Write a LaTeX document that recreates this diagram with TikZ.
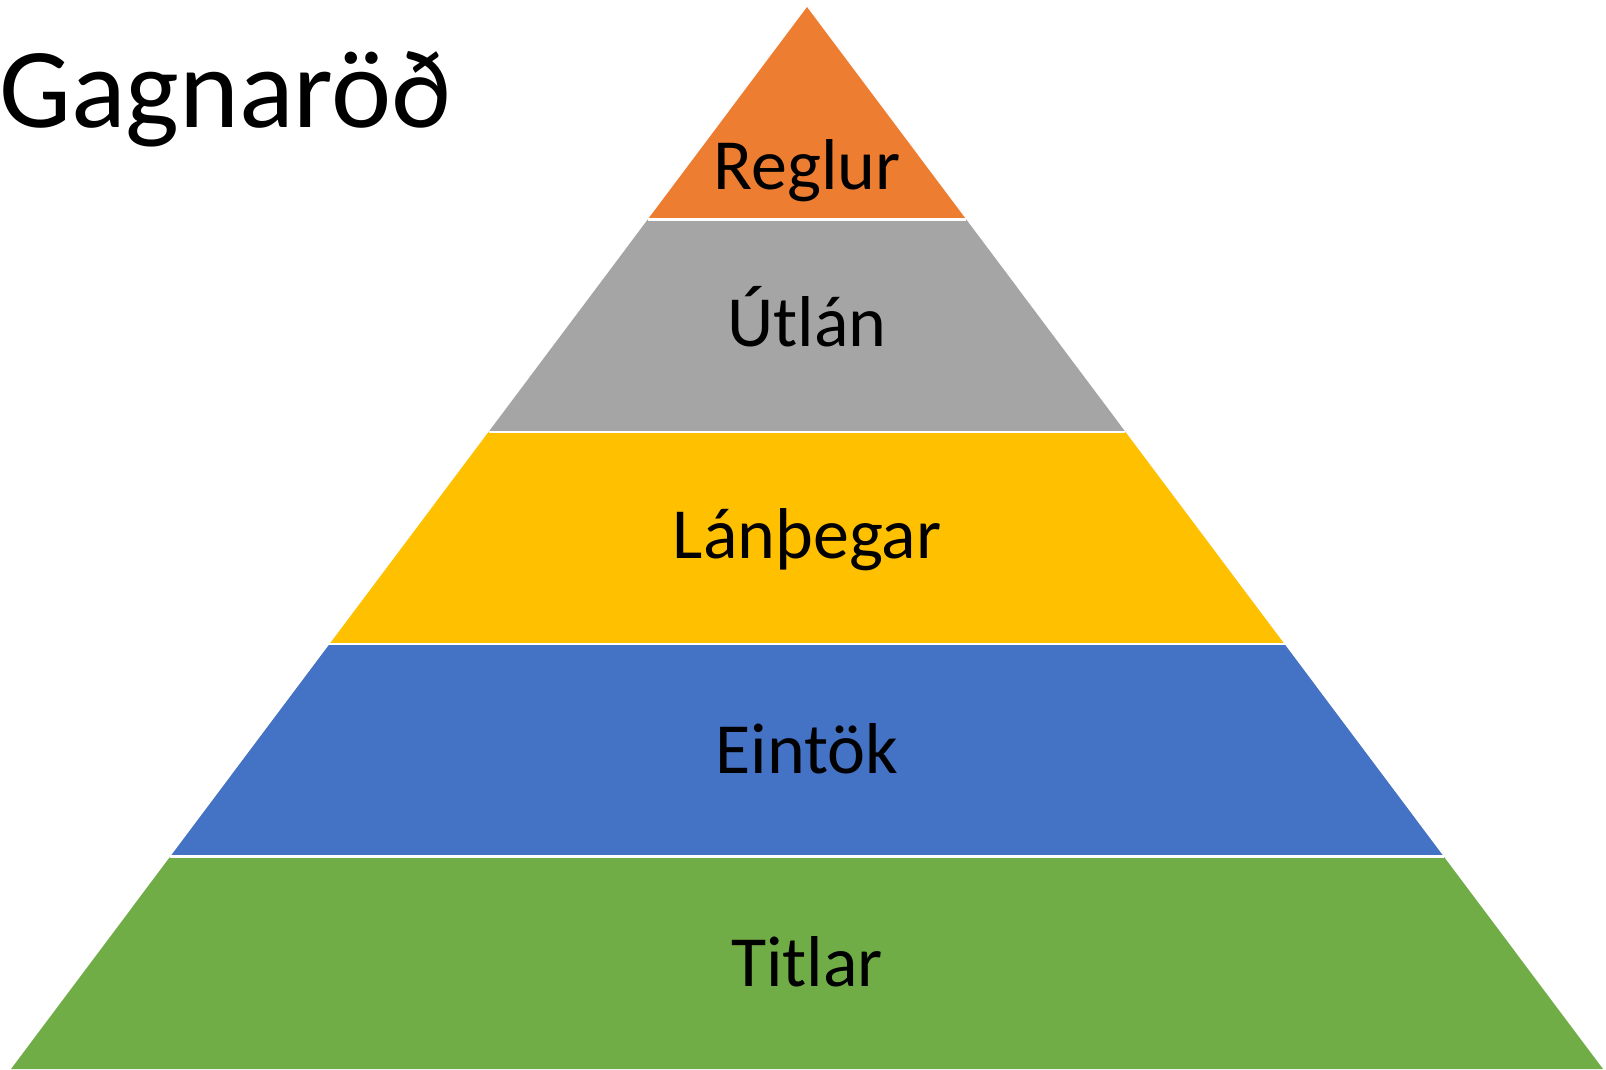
\documentclass[tikz,border=0pt]{standalone}
\usepackage{fontspec}
\setmainfont{Carlito}
\usetikzlibrary{calc}
\definecolor{cOrange}{HTML}{ED7D31}
\definecolor{cGray}{HTML}{A5A5A5}
\definecolor{cYellow}{HTML}{FFC000}
\definecolor{cBlue}{HTML}{4472C4}
\definecolor{cGreen}{HTML}{70AD47}
\tikzset{
  band/.style={draw=white, line width=2.5pt, line join=miter},
  lbl/.style={inner sep=0pt, anchor=base, font=\fontsize{72}{80}\selectfont, text=black},
  ttl/.style={inner sep=0pt, anchor=base west, font=\fontsize{114}{130}\selectfont, text=black}
}
\begin{document}
\begin{tikzpicture}[x=1pt,y=-1pt]
\useasboundingbox (0,0) rectangle (1606,1069);
\coordinate (A) at (807,7);
\coordinate (BL) at (11,1069);
\coordinate (BR) at (1603,1069);
\foreach \i/\c in {0/cOrange,1/cGray,2/cYellow,3/cBlue,4/cGreen}{
  \pgfmathsetmacro{\fa}{\i/5}
  \pgfmathsetmacro{\fb}{(\i+1)/5}
  \fill[\c] ($(A)!\fa!(BL)$) -- ($(A)!\fb!(BL)$) -- ($(A)!\fb!(BR)$) -- ($(A)!\fa!(BR)$) -- cycle;
}
\foreach \i in {1,2,3,4}{
  \pgfmathsetmacro{\fa}{\i/5}
  \draw[band] ($(A)!\fa!(BL)$) -- ($(A)!\fa!(BR)$);
}
\node[lbl] (reglur) at (807,189) {Reglur};
\node[lbl] (utlan) at (807,346) {Útlán};
\node[lbl] (lanthegar) at (807,558) {Lánþegar};
\node[lbl] (eintok) at (807,773) {Eintök};
\node[lbl] (titlar) at (807,986) {Titlar};
\node[ttl] (title) at (-1,127) {Gagnaröð};
\end{tikzpicture}
\end{document}
